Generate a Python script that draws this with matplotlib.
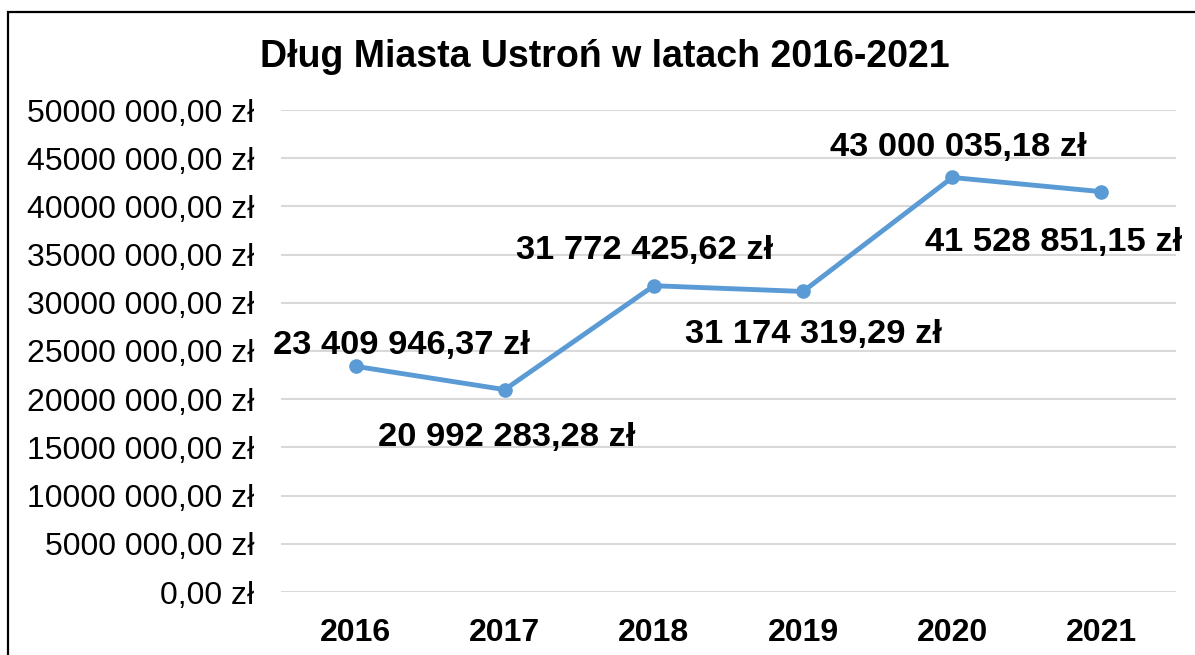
import matplotlib
matplotlib.use("Agg")
import matplotlib.pyplot as plt
from matplotlib.patches import Rectangle

plt.rcParams['font.family'] = ['Liberation Sans', 'DejaVu Sans']

years = ['2016', '2017', '2018', '2019', '2020', '2021']
debt = [23409946.37, 20992283.28, 31772425.62, 31174319.29, 43000035.18, 41528851.15]
y_ticks = [0, 5e6, 10e6, 15e6, 20e6, 25e6, 30e6, 35e6, 40e6, 45e6, 50e6]
y_tick_labels = ['0,00 zł', '5000 000,00 zł', '10000 000,00 zł', '15000 000,00 zł',
                 '20000 000,00 zł', '25000 000,00 zł', '30000 000,00 zł',
                 '35000 000,00 zł', '40000 000,00 zł', '45000 000,00 zł',
                 '50000 000,00 zł']
title = 'Dług Miasta Ustroń w latach 2016-2021'

# label offsets in pixels (dx, dy up)
offsets = [(46, 21), (2, -48), (-9, 35), (10, -43), (6, 30), (-48, -51)]


def fmt_pln(v):
    whole, frac = f"{v:,.2f}".split('.')
    return whole.replace(',', ' ') + ',' + frac + ' zł'


W, H = 1195, 655
fig = plt.figure(figsize=(W / 100, H / 100), dpi=100)
ax = fig.add_axes([281 / W, (H - 592) / H, 895 / W, 482 / H])

x = list(range(len(years)))
ax.plot(x, debt, color='#5B9BD5', lw=3.5, marker='o', ms=9.5, zorder=3)

px = 0.72
for xi, v, (dx, dy) in zip(x, debt, offsets):
    ax.annotate(fmt_pln(v), (xi, v), xytext=(dx * px, dy * px),
                textcoords='offset points', ha='center', va='center',
                fontsize=24.8, fontweight='bold', color='black')

ax.set_xlim(-0.5, len(years) - 0.5)
ax.set_ylim(0, 50e6)
ax.set_yticks(y_ticks)
ax.set_yticklabels(y_tick_labels, fontsize=23)
ax.set_xticks(x)
ax.set_xticklabels(years, fontsize=23, fontweight='bold')
ax.tick_params(axis='both', length=0)
ax.tick_params(axis='y', pad=19)
ax.tick_params(axis='x', pad=19)
ax.grid(axis='y', color='#D9D9D9', lw=1.5)
ax.set_axisbelow(True)
for s in ax.spines.values():
    s.set_visible(False)

fig.text(605 / W, 1 - 57 / H, title, ha='center', va='center',
         fontsize=27, fontweight='bold')

# chart frame (cropped on the right and bottom)
fig.patches.append(Rectangle((8 / W, -0.1), 1.2, 1 - 12 / H + 0.1,
                             transform=fig.transFigure, fill=False,
                             edgecolor='black', lw=1.6))

fig.savefig('out.png', dpi=100)
